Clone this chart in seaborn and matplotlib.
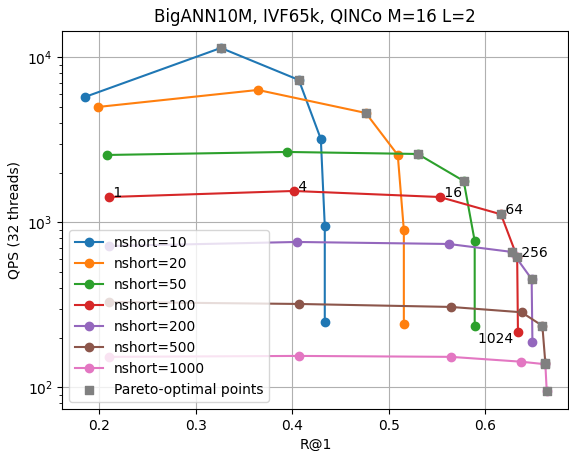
import matplotlib
matplotlib.use("Agg")
import matplotlib.pyplot as plt
import seaborn as sns
import numpy as np
import pandas as pd

nprobe = [1, 4, 16, 64, 256, 1024]
nshort = [10, 20, 50, 100, 200, 500, 1000]

r1_10 = [0.1852, 0.3260, 0.4067, 0.4295, 0.4336, 0.4336]
qps_10 = [5747, 11386, 7286, 3197, 950, 249]
r1_20 = [0.1987, 0.3643, 0.4761, 0.5092, 0.5155, 0.5155]
qps_20 = [4998, 6337, 4597, 2558, 898, 242]
r1_50 = [0.2080, 0.3943, 0.5299, 0.5775, 0.5889, 0.5889]
qps_50 = [2558, 2668, 2594, 1780, 770, 235]
r1_100 = [0.2101, 0.4015, 0.5527, 0.6161, 0.6329, 0.6337]
qps_100 = [1423, 1548, 1423, 1118, 616, 217]
r1_200 = [0.2101, 0.4046, 0.5620, 0.6277, 0.6479, 0.6487]
qps_200 = [718, 760, 739, 661, 453, 187]
r1_500 = [0.2101, 0.4067, 0.5641, 0.6374, 0.6590, 0.6621]
qps_500 = [329, 320, 307, 285, 236, 140]
r1_1000 = [0.2101, 0.4067, 0.5641, 0.6369, 0.6621, 0.6635]
qps_1000 = [153, 155, 153, 143, 138, 95.4]

pareto_10 = [0, 1, 1, 0, 0, 0]
pareto_20 = [0, 0, 1, 0, 0, 0]
pareto_50 = [0, 0, 1, 1, 0, 0]
pareto_100 = [0, 0, 0, 1, 1, 0]
pareto_200 = [0, 0, 0, 1, 1, 0]
pareto_500 = [0, 0, 0, 0, 1, 1]
pareto_1000 = [0, 0, 0, 0, 1, 1]

r1_all = [r1_10, r1_20, r1_50, r1_100, r1_200, r1_500, r1_1000]
qps_all = [qps_10, qps_20, qps_50, qps_100, qps_200, qps_500, qps_1000]
pareto_all = [pareto_10, pareto_20, pareto_50, pareto_100, pareto_200, pareto_500, pareto_1000]

rows = []
for ns, xs, ys, ps in zip(nshort, r1_all, qps_all, pareto_all):
    for npb, x, y, p in zip(nprobe, xs, ys, ps):
        rows.append(dict(nshort=ns, nprobe=npb, r1=x, qps=y, pareto=p))
df = pd.DataFrame(rows)

fig = plt.figure(figsize=(5.69, 4.51), dpi=100)
ax = fig.add_axes([0.1095, 0.0931, 0.8895, 0.8389])

palette = sns.color_palette("tab10")
for i, ns in enumerate(nshort):
    sub = df[df.nshort == ns]
    c = palette[i]
    sns.lineplot(data=sub, x="r1", y="qps", sort=False, estimator=None,
                 color=c, marker="o", markersize=6, markeredgecolor=c,
                 markeredgewidth=1.0, linewidth=1.5, label=f"nshort={ns}", ax=ax)

par = df[df.pareto == 1]
sns.scatterplot(data=par, x="r1", y="qps", marker="s", s=36, color="gray",
                edgecolor="gray", linewidth=1.0, zorder=3,
                label="Pareto-optimal points", ax=ax)

red = df[df.nshort == 100]
for npb, x, y in zip(red.nprobe, red.r1, red.qps):
    if npb == 1024:
        ax.text(x, y, f"{npb} ", ha="right", va="top", fontsize=10)
    else:
        ax.text(x, y, f" {npb}", ha="left", va="baseline", fontsize=10)

ax.set_yscale("log")
ax.set_xlim(0.1617, 0.686)
ax.set_ylim(73.9, 14490)
ax.grid(True, which="major", color="#b0b0b0", linewidth=0.8)
ax.set_xlabel("R@1")
ax.set_ylabel("QPS (32 threads)")
ax.set_title("BigANN10M, IVF65k, QINCo M=16 L=2")
ax.legend(loc="lower left")

fig.savefig("out.png", dpi=100)
